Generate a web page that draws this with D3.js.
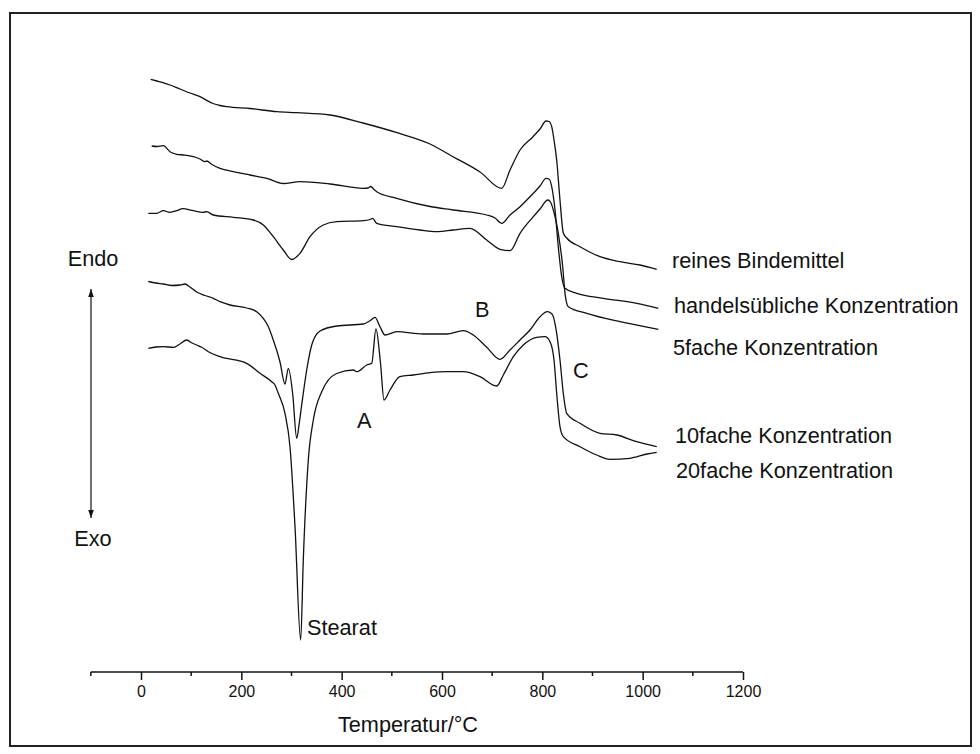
<!DOCTYPE html>
<html><head><meta charset="utf-8">
<script src="https://cdn.jsdelivr.net/npm/d3@7"></script>
<style>
html,body{margin:0;padding:0;background:#fff;}
svg{display:block;font-family:Arial,"Liberation Sans",sans-serif;}
</style></head>
<body>
<svg id="chart" width="980" height="754"></svg>
<script>
// Temperature ticks (°C)
const majorTicks = [0, 200, 400, 600, 800, 1000, 1200];
const minorTicks = [-100, 100, 300, 500, 700, 900, 1100];

// DTA signal (arbitrary units), [temperature °C, signal]
const reinesBindemittel = [
 [19.3,600.7],[31.9,599],[43.9,597.3],[57.8,595],[77.7,591],[97.7,587],[117.6,583.3],[143.5,576.5],
 [157.5,574.5],[171.4,573.3],[217.3,571.5],[271.1,568.3],[311,567.3],[376.7,565],[442.5,557],
 [510.3,547.3],[576.1,536],[622,523.3],[675.8,508],[719,491.7],[735.6,510],[755.5,530],[781.4,543.3],
 [795.4,551],[807.3,559],[813.3,558.5],[818.7,553.3],[823.3,540],[828.6,520],[835.2,480],[841.8,447],
 [848.6,442],[875.1,433.3],[915,423.3],[954.8,418.3],[994.7,415],[1028,410.7]
];
const handelsueblich = [
 [21.3,534],[31.9,533.5],[44.5,534.3],[57.8,528.3],[71.2,525.7],[84.3,525],[104.3,523.3],[117.6,521],
 [127.6,518.3],[131,519],[141.5,515.5],[157.5,511.7],[184,508.3],[217.3,505],[250.6,501.7],[283.7,496.5],
 [317,498.3],[376.7,496],[443.1,491.7],[452.5,492],[457.9,493.5],[464.5,490.5],[469.8,488.3],[509.7,481.7],
 [576.1,473.5],[622.5,470],[689.1,465],[705.6,462],[719,456.7],[735.6,465],[755.5,473.3],[782,486.7],
 [795.4,494],[807.3,501.7],[813.3,501],[818.7,493.3],[825.3,470],[831.8,433.3],[838.6,403.3],[845.2,391.7],
 [868.5,386.7],[921.5,381.7],[988.1,376.7],[1031.2,371.7]
];
const fach5 = [
 [14.6,466.7],[31.3,466.7],[44.5,469.3],[57.8,467.7],[71.2,469.3],[83.1,471.3],[104.3,469.3],[124.2,467.7],
 [131,468.3],[144.1,465],[184,462.7],[223.9,460],[243.8,455],[263.7,443.3],[283.7,430],[300.4,420.5],
 [316.9,426.7],[336.9,443.3],[363.4,455],[390.1,458.3],[443.1,459.3],[456.5,460.5],[461.9,461.7],[469.8,456.7],
 [509.7,453.3],[556.2,450],[589.4,448.3],[622.5,450],[655.8,451.7],[689.1,440],[715.6,430.7],[735.6,429.3],
 [755.5,446.7],[782,463.3],[795.4,471],[810.7,480],[816.3,478],[821.9,470],[831.8,446.7],[840.6,413.3],
 [845.2,386.7],[851.8,373.3],[888.5,366.7],[954.8,358.3],[1031.2,350.7]
];
const fach10 = [
 [14.6,398.5],[29.9,397],[44.5,396],[61.8,394.5],[77.7,395],[87.7,396],[97.7,393],[111,388],[127.6,384.5],
 [144.1,381.7],[157.5,378.3],[177.4,375],[210.7,372],[230.6,368.3],[243.8,361.7],[253.2,354],[263.7,340],
 [277.1,318],[287,296],[293.7,311.7],[302.4,286],[310.4,241.7],[315,255],[320.3,275],[330.3,310],[340.3,335],
 [356.8,349],[390.1,354],[443.1,356],[456.5,359.3],[466.5,362.7],[476.4,353.3],[486.4,345],[509.7,348.3],
 [562.7,346],[609.4,346],[642.5,349.3],[662.4,345],[689.1,332.7],[715.6,320.7],[735.6,330],[755.5,340],
 [775.4,350],[795.4,363.3],[809.9,368.3],[815.3,367.5],[820.6,365],[828.6,346.7],[835.2,320],[841.8,286.7],
 [848.6,266.7],[875.1,256.7],[915,246.7],[948.3,245],[988.1,238.3],[1028,233.3]
];
const fach20 = [
 [14.6,331.7],[29.9,333],[44.5,333.3],[64.4,332.7],[77.7,336],[91.1,340],[101.7,337],[111,335],[121,332.7],
 [134.2,328.3],[157.5,323.3],[210.7,316.7],[237.2,306.7],[260.5,298.3],[267.1,295],[273.7,286.7],[287,266.7],
 [297,233.3],[307,153.3],[318.3,40],[323.5,120],[333.5,220],[343.5,260],[360.2,288.3],[390.1,306.5],
 [423.2,310],[430,308.3],[449.9,315],[459.9,316.7],[468.4,351],[477.4,316.7],[484.4,280],[496.3,290],
 [516.2,303.3],[542.8,305],[576.1,307.3],[609.4,308.3],[642.5,308.3],[675.8,303.3],[709.1,294],[722.2,305],
 [742.2,323.3],[762.1,335],[788.8,342.7],[805.3,343.3],[815.3,338.3],[823.3,320],[828.6,286.7],[835.2,253.3],
 [841.8,243.3],[875.1,233.3],[908.4,225],[934.9,220.7],[974.8,221.7],[1008.1,226],[1028,227.7]
];
const seriesNames = ["reines Bindemittel","handelsübliche Konzentration","5fache Konzentration","10fache Konzentration","20fache Konzentration"];
const seriesData = [reinesBindemittel, handelsueblich, fach5, fach10, fach20];

const svg = d3.select("#chart");
const x = d3.scaleLinear().domain([0, 1200]).range([141, 743]);
const y = d3.scaleLinear().domain([0, 600]).range([680, 80]);
const FS = 21.7;

// frame
svg.append("rect").attr("x", 10).attr("y", 13).attr("width", 961).attr("height", 733)
  .attr("fill", "none").attr("stroke", "#222").attr("stroke-width", 2);

// curves
const line = d3.line().x(d => x(d[0])).y(d => y(d[1])).curve(d3.curveMonotoneX);
svg.append("g").selectAll("path").data(seriesData).join("path")
  .attr("d", line).attr("fill", "none").attr("stroke", "#111").attr("stroke-width", 1.3)
  .attr("stroke-linejoin", "round");

// x axis
const axisY = 672;
const gAx = svg.append("g").attr("transform", `translate(0,${axisY})`);
gAx.call(d3.axisBottom(x).tickValues(majorTicks).tickSize(8).tickPadding(6).tickFormat(d3.format("d")));
gAx.select(".domain").attr("d", `M${x(-100)},0H${x(1200)}`).attr("stroke", "#111").attr("stroke-width", 1.5);
gAx.selectAll(".tick line").attr("stroke", "#111").attr("stroke-width", 1.5);
gAx.selectAll(".tick text").attr("font-size", 16).attr("font-family", "Arial, 'Liberation Sans', sans-serif").attr("fill", "#111");
gAx.append("g").selectAll("line").data(minorTicks).join("line")
  .attr("x1", d => x(d)).attr("x2", d => x(d)).attr("y1", 0).attr("y2", 4)
  .attr("stroke", "#111").attr("stroke-width", 1.5);

svg.append("text").attr("x", 408).attr("y", 732).attr("text-anchor", "middle")
  .attr("font-size", FS).attr("fill", "#111").text("Temperatur/°C");

// Endo / Exo arrow
const defs = svg.append("defs");
defs.append("marker").attr("id", "ah").attr("viewBox", "0 0 10 10").attr("refX", 10).attr("refY", 5)
  .attr("markerWidth", 8).attr("markerHeight", 8).attr("markerUnits", "userSpaceOnUse").attr("orient", "auto-start-reverse")
  .append("path").attr("d", "M0,1.5L10,5L0,8.5Z").attr("fill", "#111");
svg.append("line").attr("x1", 91).attr("x2", 91).attr("y1", 289).attr("y2", 518)
  .attr("stroke", "#111").attr("stroke-width", 1.2)
  .attr("marker-start", "url(#ah)").attr("marker-end", "url(#ah)");
svg.append("text").attr("x", 93).attr("y", 266).attr("text-anchor", "middle").attr("font-size", FS).attr("fill", "#111").text("Endo");
svg.append("text").attr("x", 93).attr("y", 546).attr("text-anchor", "middle").attr("font-size", FS).attr("fill", "#111").text("Exo");

// series labels
const labelPos = [[672,268],[674,313],[673,355],[675,443],[676,478]];
svg.append("g").selectAll("text").data(seriesNames).join("text")
  .attr("x", (d,i) => labelPos[i][0]).attr("y", (d,i) => labelPos[i][1])
  .attr("font-size", FS).attr("fill", "#111").text(d => d);

// annotations
const notes = [["A",357,428],["B",475,317],["C",573,378],["Stearat",307,635]];
svg.append("g").selectAll("text").data(notes).join("text")
  .attr("x", d => d[1]).attr("y", d => d[2]).attr("font-size", FS).attr("fill", "#111").text(d => d[0]);
</script>
</body></html>
